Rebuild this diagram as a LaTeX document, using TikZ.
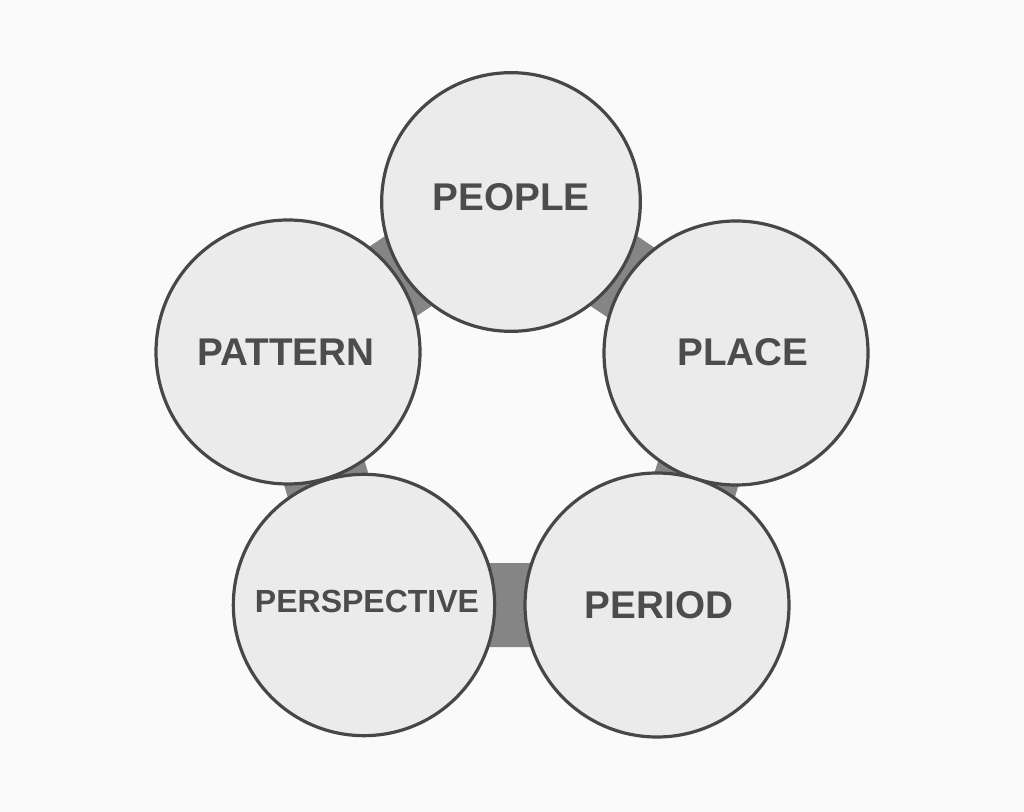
\documentclass[tikz,border=0pt]{standalone}
\usepackage{fontspec}
\setmainfont{Liberation Sans}
\begin{document}
\begin{tikzpicture}[x=0.75pt,y=-0.75pt,
  disc/.style={circle,draw=black!72,line width=2.4pt,fill=black!8,inner sep=0pt},
  lbl/.style={text=black!70,font=\bfseries\fontsize{#1}{#1}\selectfont},
  link/.style={line width=63pt,draw=black!48}]
\fill[black!2] (0,0) rectangle (1024,812);
\useasboundingbox (0,0) rectangle (1024,812);
\coordinate (cpeo) at (511,202);
\coordinate (cpla) at (736,353);
\coordinate (cper) at (657,605);
\coordinate (cpsp) at (364,605);
\coordinate (cpat) at (288,352);
\draw[link] (cpeo) -- (cpla) -- (cper) -- (cpsp) -- (cpat) -- cycle;
\node[disc,minimum size=194pt] (people) at (cpeo) {};
\node[disc,minimum size=198pt] (place) at (cpla) {};
\node[disc,minimum size=198pt] (period) at (cper) {};
\node[disc,minimum size=196pt] (persp) at (cpsp) {};
\node[disc,minimum size=198pt] (pattern) at (cpat) {};
\node[lbl=29] (tpeo) at (511,197) {PEOPLE};
\node[lbl=29] (tpla) at (743,352) {PLACE};
\node[lbl=29] (tpat) at (286,352) {PATTERN};
\node[lbl=24] (tpsp) at (367,601) {PERSPECTIVE};
\node[lbl=29] (tper) at (659,605) {PERIOD};
\end{tikzpicture}
\end{document}
